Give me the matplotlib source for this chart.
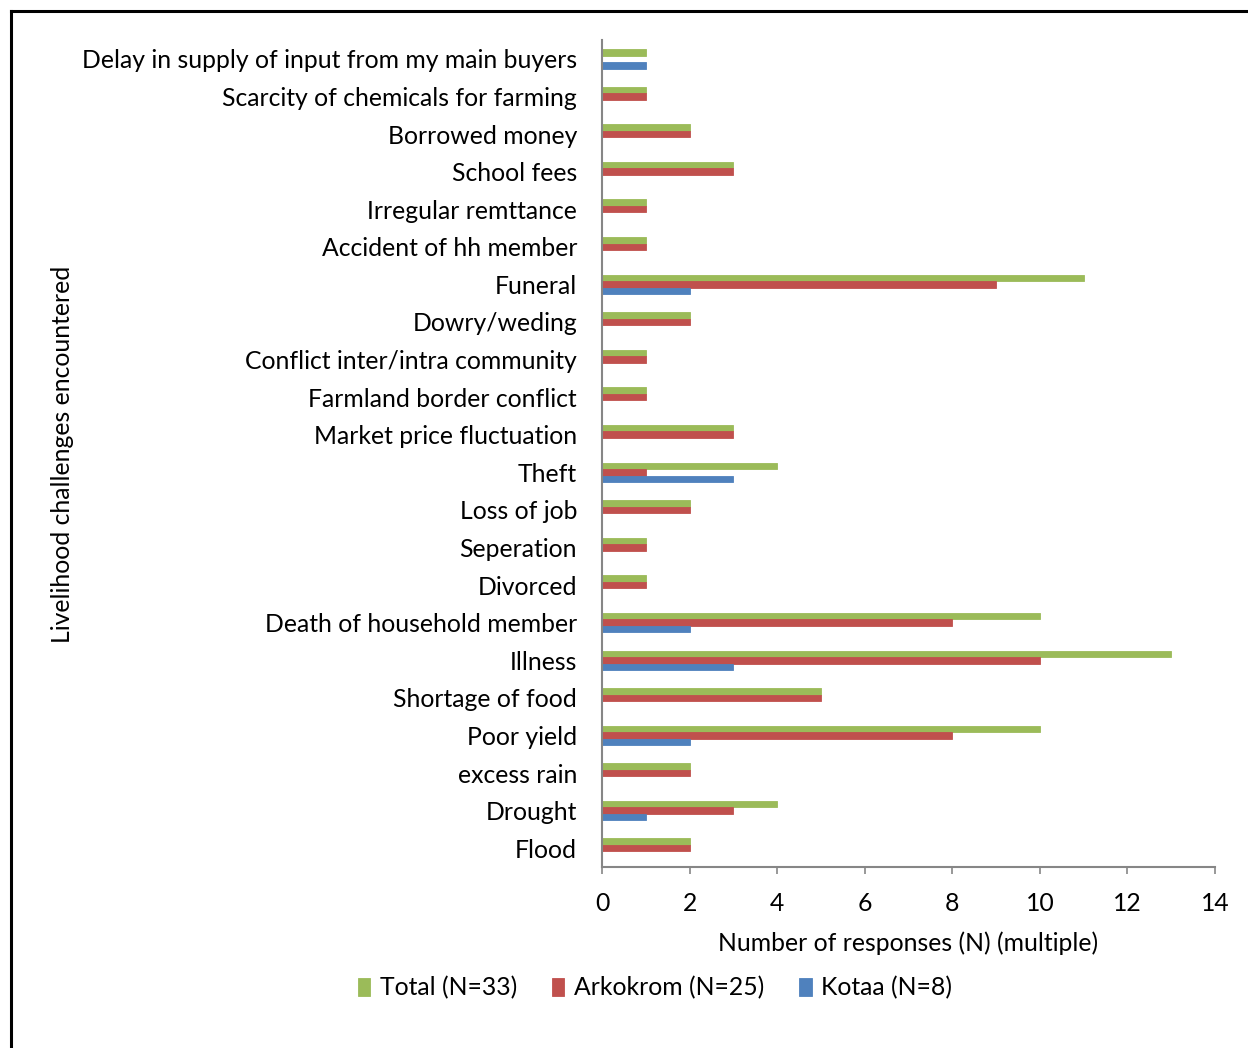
import matplotlib.pyplot as plt
from matplotlib.lines import Line2D

plt.rcParams['font.family'] = ['Lato', 'DejaVu Sans']

challenges = [
    "Delay in supply of input from my main buyers",
    "Scarcity of chemicals for farming",
    "Borrowed money",
    "School fees",
    "Irregular remttance",
    "Accident of hh member",
    "Funeral",
    "Dowry/weding",
    "Conflict inter/intra community",
    "Farmland border conflict",
    "Market price fluctuation",
    "Theft",
    "Loss of job",
    "Seperation",
    "Divorced",
    "Death of household member",
    "Illness",
    "Shortage of food",
    "Poor yield",
    "excess rain",
    "Drought",
    "Flood",
]
total = [1, 1, 2, 3, 1, 1, 11, 2, 1, 1, 3, 4, 2, 1, 1, 10, 13, 5, 10, 2, 4, 2]
arkokrom = [0, 1, 2, 3, 1, 1, 9, 2, 1, 1, 3, 1, 2, 1, 1, 8, 10, 5, 8, 2, 3, 2]
kotaa = [1, 0, 0, 0, 0, 0, 2, 0, 0, 0, 0, 3, 0, 0, 0, 2, 3, 0, 2, 0, 1, 0]

series = [
    ("Total (N=33)", total, "#9BBB59"),
    ("Arkokrom (N=25)", arkokrom, "#C0504D"),
    ("Kotaa (N=8)", kotaa, "#4F81BD"),
]

fs = 17.8

fig = plt.figure(figsize=(12.48, 10.48), dpi=100)
ax = fig.add_axes([0.4824, 0.1727, 0.4912, 0.7891])

h = 0.173
ypos = list(range(len(challenges)))
for i, (name, vals, col) in enumerate(series):
    off = (i - 1) * h
    ax.barh([y + off for y in ypos], vals, height=h, color=col, label=name,
            edgecolor=col, linewidth=0.6)

ax.set_ylim(len(challenges) - 0.5, -0.5)
ax.set_xlim(0, 14)
ax.set_xticks(range(0, 15, 2))
ax.set_yticks(ypos)
ax.set_yticklabels(challenges, fontsize=fs)

for s in ["top", "right"]:
    ax.spines[s].set_visible(False)
for s in ["left", "bottom"]:
    ax.spines[s].set_color("#868686")
    ax.spines[s].set_linewidth(1.5)
ax.tick_params(axis="y", length=0, pad=18)
ax.tick_params(axis="x", length=5, width=1.2, color="#868686", labelsize=fs, pad=13)

ax.set_xlabel("Number of responses (N) (multiple)", fontsize=fs, labelpad=12)
fig.text(0.05, 0.5665, "Livelihood challenges encountered", rotation=90,
         fontsize=fs, ha="center", va="center")

fig.legend(loc="center", bbox_to_anchor=(0.525, 0.0573), ncol=3, frameon=False,
           fontsize=fs, handlelength=0.5, handleheight=0.7, handletextpad=0.4,
           columnspacing=1.4)

# outer frame, left and top edges only
fig.add_artist(Line2D([0.0088, 0.0088], [0.0, 0.9895], color="black", lw=2.2))
fig.add_artist(Line2D([0.0088, 1.0], [0.9895, 0.9895], color="black", lw=2.2))

fig.savefig("out.png", dpi=100)
